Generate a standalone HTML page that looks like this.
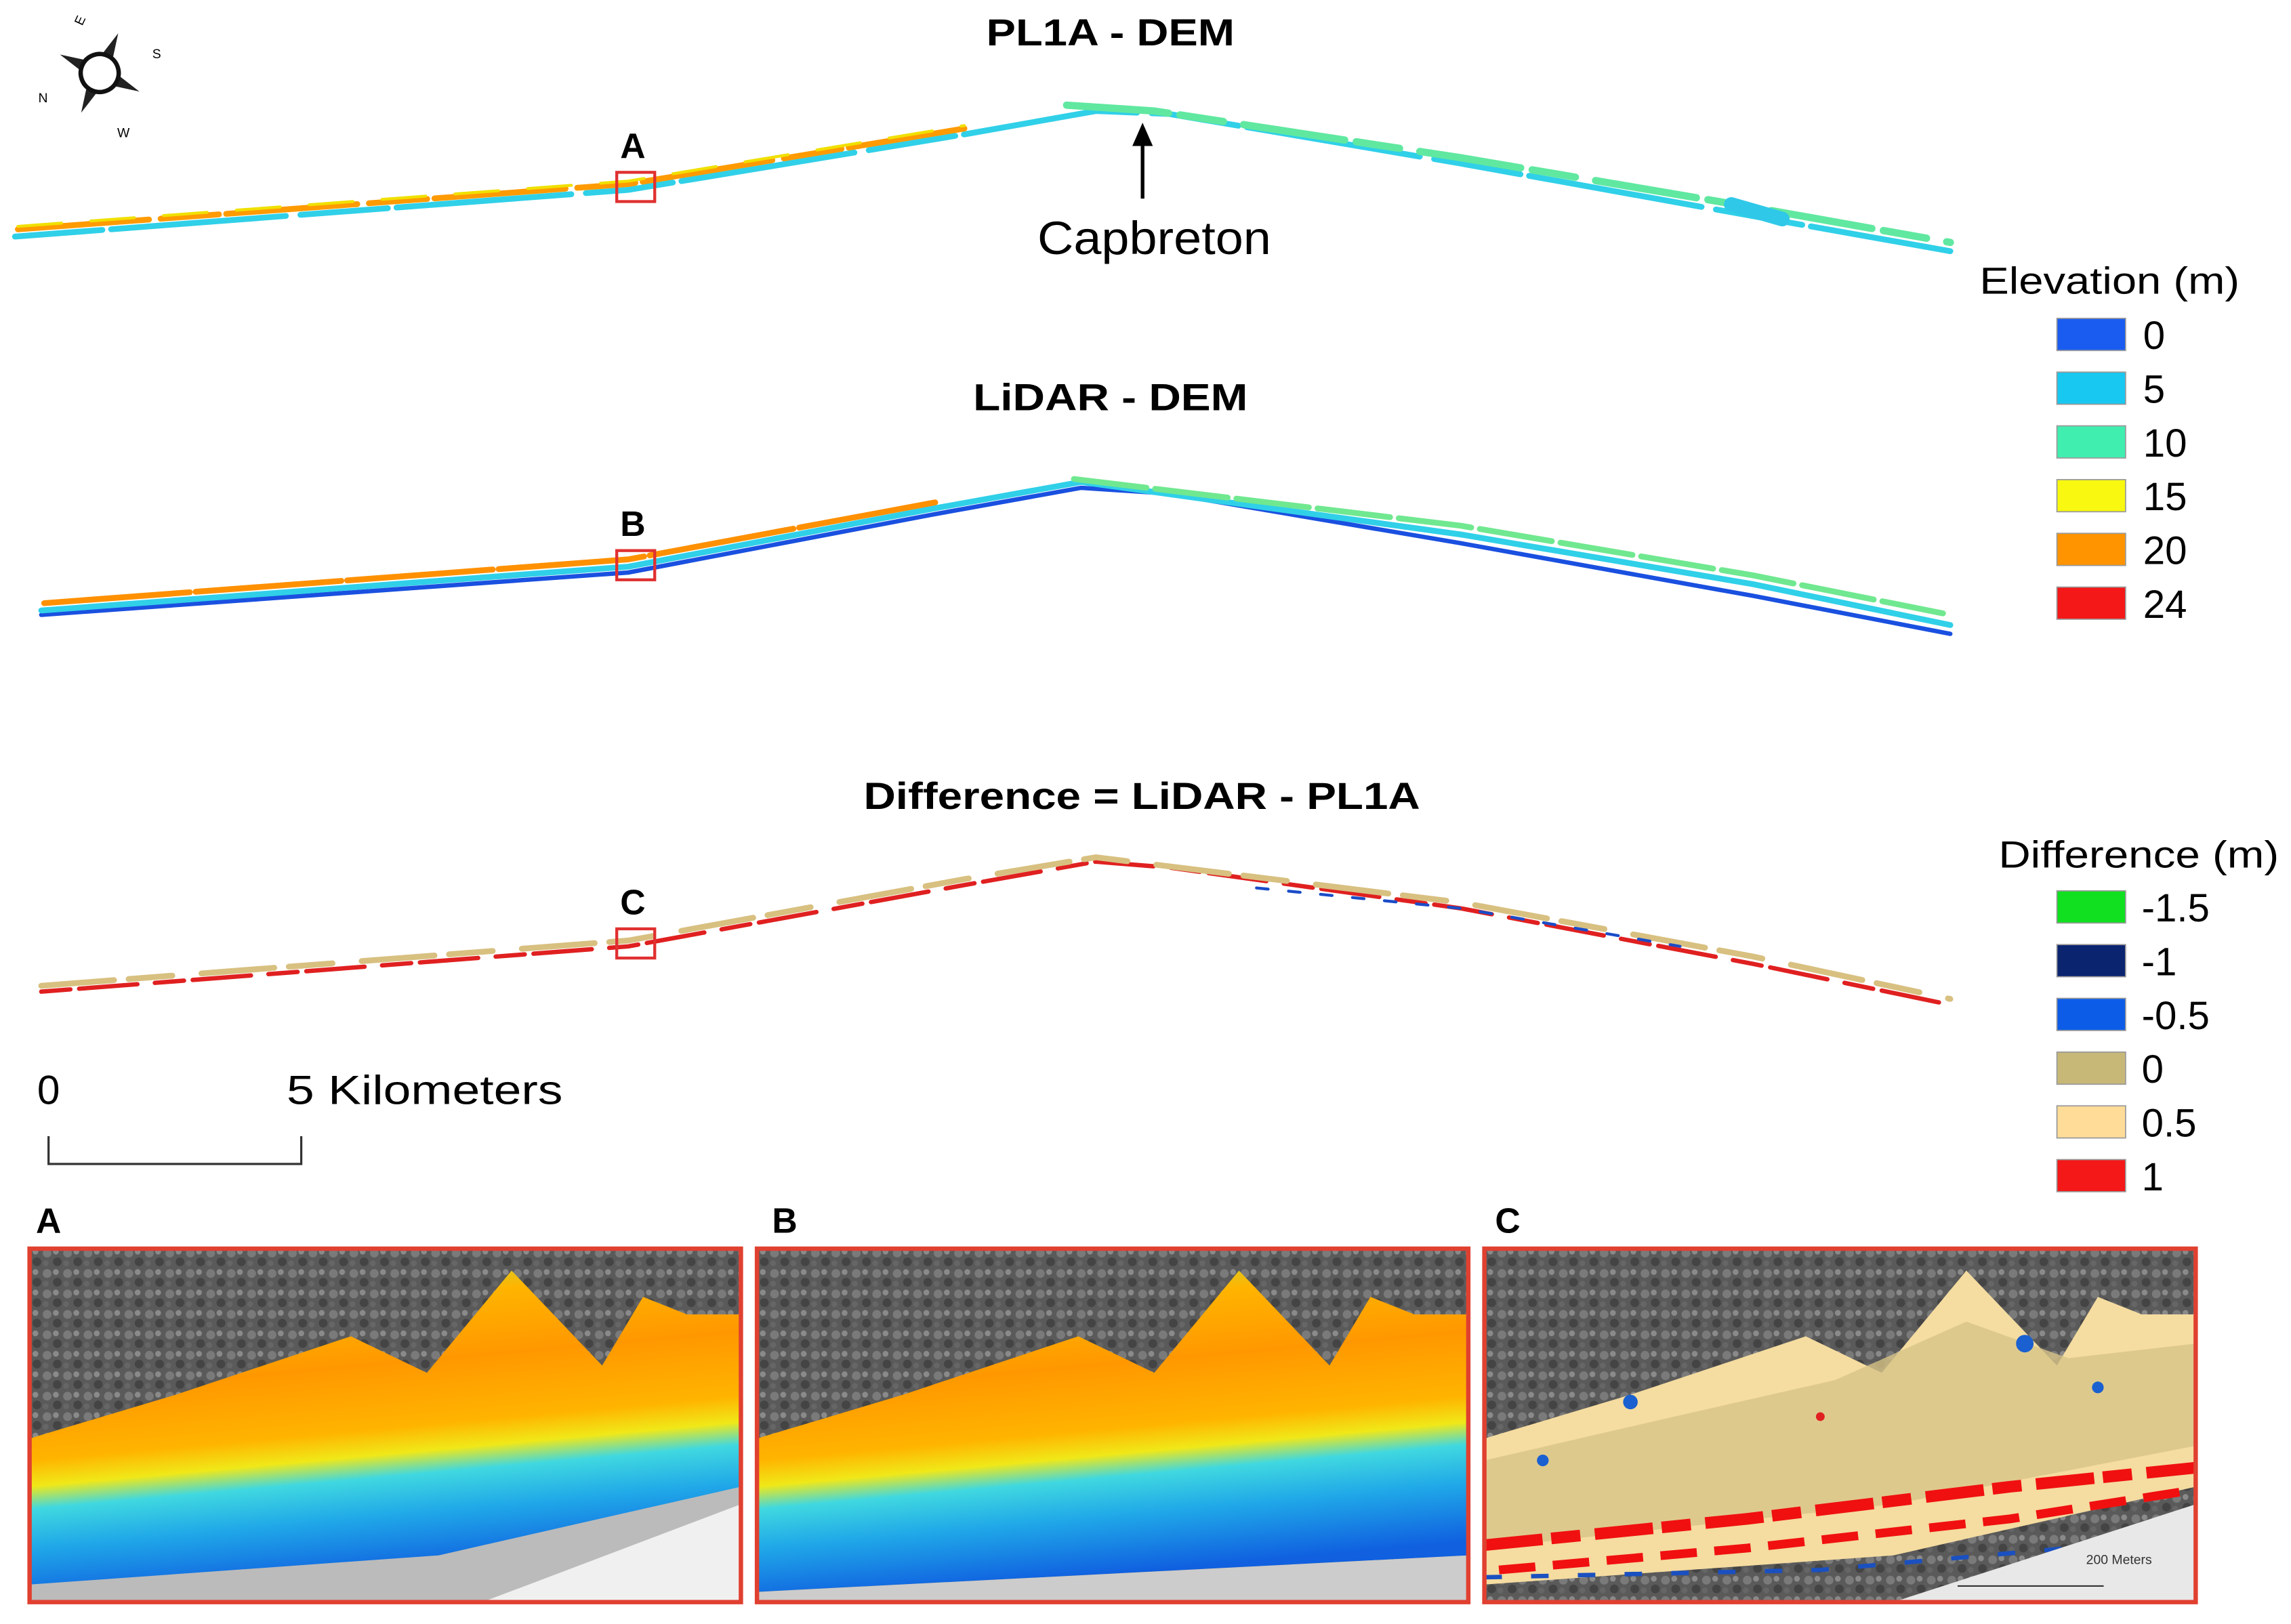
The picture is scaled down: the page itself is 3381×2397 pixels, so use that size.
<!DOCTYPE html>
<html><head><meta charset="utf-8"><style>
html,body{margin:0;padding:0;background:#fff;}
svg{display:block;}
text{font-family:"Liberation Sans",sans-serif;}
</style></head><body>
<svg id="fig" width="3381" height="2397" viewBox="0 0 1568 1112" xmlns="http://www.w3.org/2000/svg">
<defs>
  <linearGradient id="demGrad" gradientUnits="userSpaceOnUse" x1="0" y1="880" x2="20" y2="1100">
    <stop offset="0" stop-color="#b8e048"/>
    <stop offset="0.15" stop-color="#ffb400"/>
    <stop offset="0.35" stop-color="#ff9800"/>
    <stop offset="0.55" stop-color="#ffb400"/>
    <stop offset="0.63" stop-color="#f0e818"/>
    <stop offset="0.7" stop-color="#40d8e0"/>
    <stop offset="0.82" stop-color="#20a8e8"/>
    <stop offset="1" stop-color="#1060e0"/>
  </linearGradient>
  <pattern id="forest" width="14" height="14" patternUnits="userSpaceOnUse">
    <rect width="14" height="14" fill="#5a5a5a"/>
    <circle cx="4" cy="4" r="3" fill="#7a7a7a"/>
    <circle cx="11" cy="10" r="3" fill="#444"/>
    <circle cx="10" cy="3" r="2" fill="#8a8a8a"/>
    <circle cx="3" cy="11" r="2" fill="#666"/>
  </pattern>
  <clipPath id="clipA"><rect x="20" y="855" width="487" height="242"/></clipPath>
  <clipPath id="clipB"><rect x="518" y="855" width="487" height="242"/></clipPath>
  <clipPath id="clipC"><rect x="1016" y="855" width="487" height="242"/></clipPath>
</defs>

<g transform="translate(68,50) rotate(-65)">
  <polygon points="0,-30 5,-8 -5,-8" fill="#222"/>
  <polygon points="0,30 5,8 -5,8" fill="#222"/>
  <polygon points="-30,0 -8,5 -8,-5" fill="#222"/>
  <polygon points="30,0 8,5 8,-5" fill="#222"/>
  <circle r="13" fill="#fff" stroke="#111" stroke-width="3"/>
</g>
<text x="56" y="18" font-size="9" transform="rotate(-65 56 18)">E</text>
<text x="104" y="40" font-size="9">S</text>
<text x="26" y="70" font-size="9">N</text>
<text x="80" y="94" font-size="9">W</text>

<text x="675" y="31" font-size="26" font-weight="bold" textLength="170" lengthAdjust="spacingAndGlyphs">PL1A - DEM</text>
<text x="666" y="281" font-size="26" font-weight="bold" textLength="188" lengthAdjust="spacingAndGlyphs">LiDAR - DEM</text>
<text x="591" y="554" font-size="26" font-weight="bold" textLength="381" lengthAdjust="spacingAndGlyphs">Difference = LiDAR - PL1A</text>

<g fill="none" stroke-linecap="round">
  <polyline points="10,162 430,130 660,92 750,76 800,78 1000,112 1200,148 1335,172" stroke="#30d0e8" stroke-width="4" stroke-dasharray="60,6,120,10"/>
  <polyline points="12,157 430,126 660,88" stroke="#ff9a00" stroke-width="4" stroke-dasharray="90,8,40,5"/>
  <polyline points="12,155 430,124 660,86" stroke="#f0e000" stroke-width="2" stroke-dasharray="30,20"/>
  <polyline points="730,72 790,76 1000,108 1200,142 1335,166" stroke="#60e8a0" stroke-width="5" stroke-dasharray="70,8,30,14"/>
  <polyline points="1185,140 1220,150" stroke="#30c8e8" stroke-width="10"/>
</g>
<rect x="422" y="118" width="26" height="20" fill="none" stroke="#e03030" stroke-width="2"/>
<text x="433" y="108" font-size="24" font-weight="bold" text-anchor="middle">A</text>
<g>
  <line x1="782" y1="136" x2="782" y2="96" stroke="#000" stroke-width="2.5"/>
  <polygon points="782,84 775,100 789,100" fill="#000"/>
</g>
<text x="710" y="174" font-size="32" textLength="160" lengthAdjust="spacingAndGlyphs">Capbreton</text>

<g fill="none" stroke-linecap="round">
  <polyline points="28,421 430,392 640,352 740,334 800,338 1000,372 1200,408 1335,434" stroke="#1a50e0" stroke-width="3"/>
  <polyline points="28,418 430,388 640,348 740,330 1000,366 1200,400 1335,428" stroke="#30d0e8" stroke-width="4"/>
  <polyline points="30,413 430,383 640,344" stroke="#ff9000" stroke-width="4" stroke-dasharray="100,4"/>
  <polyline points="735,328 1000,360 1200,394 1330,420" stroke="#70e890" stroke-width="4" stroke-dasharray="50,6"/>
</g>
<rect x="422" y="377" width="26" height="20" fill="none" stroke="#e03030" stroke-width="2"/>
<text x="433" y="367" font-size="24" font-weight="bold" text-anchor="middle">B</text>

<g fill="none" stroke-linecap="round">
  <polyline points="28,679 430,648 660,606 750,590 800,594 1000,622 1200,660 1335,688" stroke="#e02020" stroke-width="3" stroke-dasharray="20,6,40,12"/>
  <polyline points="28,675 430,644 660,602 750,587 1000,618 1200,655 1335,684" stroke="#d8c080" stroke-width="4" stroke-dasharray="50,10,30,20"/>
  <polyline points="860,608 1000,622 1150,648" stroke="#1a4cc8" stroke-width="2" stroke-dasharray="8,14"/>
</g>
<rect x="422" y="636" width="26" height="20" fill="none" stroke="#e03030" stroke-width="2"/>
<text x="433" y="626" font-size="24" font-weight="bold" text-anchor="middle">C</text>

<g>
  <text x="33" y="756" font-size="28" text-anchor="middle">0</text>
  <text x="196" y="756" font-size="28" textLength="189" lengthAdjust="spacingAndGlyphs">5 Kilometers</text>
  <polyline points="33,778 33,797 206,797 206,778" fill="none" stroke="#333" stroke-width="1.5"/>
</g>

<text x="1355" y="201" font-size="26" textLength="178" lengthAdjust="spacingAndGlyphs">Elevation (m)</text>
<text x="1368" y="594" font-size="26" textLength="192" lengthAdjust="spacingAndGlyphs">Difference (m)</text>
<g id="elevLegend"></g>
<g id="diffLegend"></g>

<text x="33" y="844" font-size="24" font-weight="bold" text-anchor="middle">A</text>
<text x="537" y="844" font-size="24" font-weight="bold" text-anchor="middle">B</text>
<text x="1032" y="844" font-size="24" font-weight="bold" text-anchor="middle">C</text>

<g clip-path="url(#clipA)">
  <rect x="20" y="855" width="487" height="242" fill="url(#forest)"/>
  <polygon points="20,1040 507,960 507,1097 20,1097" fill="#bbb"/>
  <polygon points="20,985 120,955 240,915 292,940 350,870 412,935 440,888 470,900 507,900 507,1018 300,1065 20,1085" fill="url(#demGrad)"/>
  <polygon points="330,1097 507,1030 507,1097" fill="#f0f0f0"/>
</g>
<rect x="20" y="855" width="487" height="242" fill="none" stroke="#e04030" stroke-width="3"/>

<g clip-path="url(#clipB)">
  <g transform="translate(498,0)">
    <rect x="20" y="855" width="487" height="242" fill="url(#forest)"/>
    <polygon points="20,985 120,955 240,915 292,940 350,870 412,935 440,888 470,900 507,900 507,1065 20,1090" fill="url(#demGrad)"/>
    <polygon points="20,1090 507,1065 507,1097 20,1097" fill="#ccc"/>
  </g>
</g>
<rect x="518" y="855" width="487" height="242" fill="none" stroke="#e04030" stroke-width="3"/>

<g clip-path="url(#clipC)">
  <g transform="translate(996,0)">
    <rect x="20" y="855" width="487" height="242" fill="url(#forest)"/>
    <polygon points="20,985 120,955 240,915 292,940 350,870 412,935 440,888 470,900 507,900 507,1018 300,1065 20,1085" fill="#f5dca0"/>
    <polygon points="20,1000 150,970 260,945 350,905 420,930 507,920 507,990 300,1030 20,1060" fill="#d8c488" opacity="0.8"/>
    <polyline points="20,1058 200,1040 380,1018 507,1005" fill="none" stroke="#f01010" stroke-width="8" stroke-dasharray="40,6,20,10"/>
    <polyline points="30,1075 200,1060 380,1040 507,1020" fill="none" stroke="#f01010" stroke-width="6" stroke-dasharray="25,12"/>
    <polyline points="20,1080 250,1075 420,1060" fill="none" stroke="#1a50c0" stroke-width="3" stroke-dasharray="12,20"/>
    <circle cx="120" cy="960" r="5" fill="#1a60d0"/><circle cx="390" cy="920" r="6" fill="#1a60d0"/>
    <circle cx="440" cy="950" r="4" fill="#1a60d0"/><circle cx="60" cy="1000" r="4" fill="#1a60d0"/>
    <circle cx="250" cy="970" r="3" fill="#e02020"/>
    <polygon points="300,1097 507,1030 507,1097" fill="#e8e8e8"/>
  </g>
  <line x1="1340" y1="1086" x2="1440" y2="1086" stroke="#333" stroke-width="1"/>
  <text x="1428" y="1071" font-size="9" fill="#333">200 Meters</text>
</g>
<rect x="1016" y="855" width="487" height="242" fill="none" stroke="#e04030" stroke-width="3"/>
</svg>
<script>
const elevLabels = ["0","5","10","15","20","24"];
const elevColors = ["#1a5cf0","#18c8f0","#40eeb0","#f8f810","#ff9400","#f41818"];
const diffLabels = ["-1.5","-1","-0.5","0","0.5","1"];
const diffColors = ["#10e020","#0a2470","#0c5ce8","#c8b878","#ffdc98","#f41818"];
const NS = "http://www.w3.org/2000/svg";
function buildLegend(gid, labels, colors, x0, y0, tx) {
  const g = document.getElementById(gid);
  labels.forEach((lab, i) => {
    const y = y0 + i * 36.8;
    const r = document.createElementNS(NS, "rect");
    r.setAttribute("x", x0); r.setAttribute("y", y);
    r.setAttribute("width", 47); r.setAttribute("height", 22);
    r.setAttribute("fill", colors[i]); r.setAttribute("stroke", "#999"); r.setAttribute("stroke-width", "0.8");
    
    
    g.appendChild(r);
    const t = document.createElementNS(NS, "text");
    t.setAttribute("x", tx); t.setAttribute("y", y + 21);
    t.setAttribute("font-size", "27");
    t.textContent = lab;
    
    
    g.appendChild(t);
  });
}
buildLegend("elevLegend", elevLabels, elevColors, 1408, 218, 1467);
buildLegend("diffLegend", diffLabels, diffColors, 1408, 610, 1466);
</script>
</body></html>
